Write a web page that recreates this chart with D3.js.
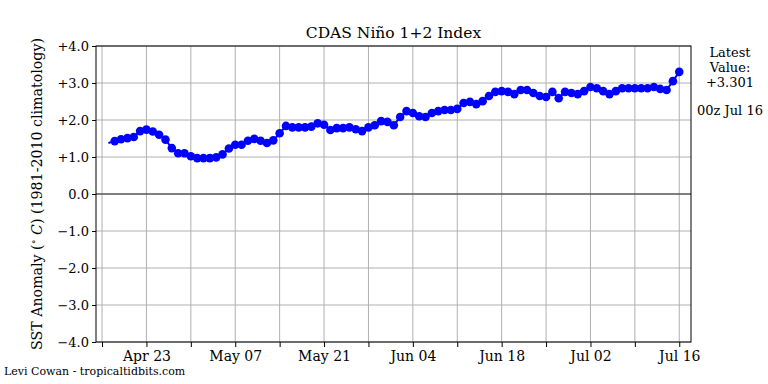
<!DOCTYPE html>
<html>
<head>
<meta charset="utf-8">
<script src="https://cdn.jsdelivr.net/npm/d3@7"></script>
<style>
  body { margin: 0; background: #fff; }
  svg { font-family: "DejaVu Serif", serif; }
</style>
</head>
<body>
<div id="chart"></div>
<script>
// daily Nino 1+2 anomalies, Apr 17 .. Jul 16
const startDate = "2023-04-17";
const anomalies = [
  1.38, 1.43, 1.48, 1.51, 1.54, 1.70, 1.74, 1.69, 1.60, 1.47,
  1.24, 1.10, 1.10, 1.02, 0.97, 0.97, 0.97, 0.99, 1.07, 1.23,
  1.33, 1.33, 1.44, 1.49, 1.44, 1.38, 1.45, 1.64, 1.84, 1.80,
  1.80, 1.80, 1.82, 1.91, 1.87, 1.73, 1.78, 1.78, 1.80, 1.75,
  1.70, 1.80, 1.86, 1.97, 1.95, 1.86, 2.08, 2.24, 2.19, 2.10,
  2.08, 2.19, 2.24, 2.27, 2.27, 2.30, 2.46, 2.49, 2.43, 2.51,
  2.65, 2.76, 2.78, 2.76, 2.70, 2.81, 2.81, 2.73, 2.65, 2.62,
  2.76, 2.59, 2.76, 2.73, 2.70, 2.78, 2.89, 2.86, 2.78, 2.70,
  2.78, 2.86, 2.86, 2.86, 2.86, 2.86, 2.89, 2.84, 2.81, 3.05,
  3.301
];
const yTicks = [-4, -3, -2, -1, 0, 1, 2, 3, 4];
const xLabelDates = ["2023-04-23", "2023-05-07", "2023-05-21", "2023-06-04", "2023-06-18", "2023-07-02", "2023-07-16"];
const latestLabel = ["Latest", "Value:", "+3.301"];
const latestTime = "00z Jul 16";

(function chart() {
  let width = 768,
      height = 384,
      margin = ({ top: 46, right: 77, bottom: 42, left: 96 });

  const parse = d3.utcParse("%Y-%m-%d");
  const day = 864e5;
  const t0 = parse(startDate);
  const data = anomalies.map((v, i) => ({ date: new Date(+t0 + i * day), value: v }));
  const tFirst = data[0].date, tLast = data[data.length - 1].date;

  const svg = d3.select("#chart")
    .append("svg")
    .attr("width", width)
    .attr("height", height);

  let x = d3.scaleUtc()
    .domain([new Date(+tFirst - 1.95 * day), new Date(+tLast + 1.85 * day)])
    .range([margin.left, width - margin.right]);

  let y = d3.scaleLinear()
    .domain([-4, 4])
    .range([height - margin.bottom, margin.top]);

  // weekly ticks, aligned with the labelled dates
  const firstLabel = parse(xLabelDates[0]);
  const weekTicks = d3.range(-1, 13).map(k => new Date(+firstLabel + k * 7 * day))
    .filter(d => d >= x.domain()[0] && d <= x.domain()[1]);
  const labelSet = new Set(xLabelDates.map(s => +parse(s)));

  // grid
  svg.append("g")
    .selectAll("line")
    .data(weekTicks)
    .join("line")
    .attr("x1", d => x(d)).attr("x2", d => x(d))
    .attr("y1", margin.top).attr("y2", height - margin.bottom)
    .attr("stroke", "#b0b0b0")
    .attr("stroke-width", 1);

  svg.append("g")
    .selectAll("line")
    .data(yTicks.filter(d => d !== 0))
    .join("line")
    .attr("x1", margin.left).attr("x2", width - margin.right)
    .attr("y1", d => y(d)).attr("y2", d => y(d))
    .attr("stroke", "#b0b0b0")
    .attr("stroke-width", 1);

  svg.append("line")
    .attr("x1", margin.left).attr("x2", width - margin.right)
    .attr("y1", y(0)).attr("y2", y(0))
    .attr("stroke", "#555")
    .attr("stroke-width", 1.5);

  // axes
  svg.append("g")
    .attr("transform", `translate(0,${height - margin.bottom})`)
    .attr("class", "x-axis")
    .call(d3.axisBottom(x).tickValues(weekTicks).tickSize(5).tickPadding(4)
      .tickFormat(d => labelSet.has(+d) ? d3.utcFormat("%b %d")(d) : ""))
    .call(g => g.select(".domain").remove())
    .call(g => g.selectAll("text").attr("font-size", 14).attr("font-family", "DejaVu Serif").attr("fill", "#000"));

  svg.append("g")
    .attr("transform", `translate(${margin.left},0)`)
    .attr("class", "y-axis")
    .call(d3.axisLeft(y).tickValues(yTicks).tickSize(4).tickPadding(3)
      .tickFormat(d => (d > 0 ? "+" : "") + d3.format(".1f")(d)))
    .call(g => g.select(".domain").remove())
    .call(g => g.selectAll("text").attr("font-size", 13).attr("font-family", "DejaVu Serif").attr("fill", "#000"));

  svg.append("rect")
    .attr("x", margin.left).attr("y", margin.top)
    .attr("width", width - margin.left - margin.right)
    .attr("height", height - margin.top - margin.bottom)
    .attr("fill", "none")
    .attr("stroke", "#000")
    .attr("stroke-width", 1);

  // series
  svg.append("path")
    .datum(data)
    .attr("fill", "none")
    .attr("stroke", "#0000ff")
    .attr("stroke-width", 2)
    .attr("d", d3.line().x(d => x(d.date)).y(d => y(d.value)));

  svg.append("g")
    .selectAll("circle")
    .data(data.slice(1))
    .join("circle")
    .attr("cx", d => x(d.date))
    .attr("cy", d => y(d.value))
    .attr("r", 4.3)
    .attr("fill", "#0000ff");

  // text
  svg.append("text")
    .attr("x", (margin.left + width - margin.right) / 2)
    .attr("y", 38)
    .attr("text-anchor", "middle")
    .attr("font-size", 15.5)
    .text("CDAS Niño 1+2 Index");

  const yl = svg.append("text")
    .attr("transform", `translate(42,${(margin.top + height - margin.bottom) / 2}) rotate(-90)`)
    .attr("text-anchor", "middle")
    .attr("font-size", 14.2);
  yl.append("tspan").text("SST Anomaly (");
  yl.append("tspan").attr("font-size", 10).attr("dy", -5).text("∘");
  yl.append("tspan").attr("dy", 5).text(" ");
  yl.append("tspan").attr("font-style", "italic").text("C");
  yl.append("tspan").text(") (1981-2010 climatology)");

  svg.append("g")
    .selectAll("text")
    .data(latestLabel)
    .join("text")
    .attr("x", 730)
    .attr("y", (d, i) => 57 + i * 15)
    .attr("text-anchor", "middle")
    .attr("font-size", 13)
    .text(d => d);

  svg.append("text")
    .attr("x", 730)
    .attr("y", 115)
    .attr("text-anchor", "middle")
    .attr("font-size", 13)
    .text(latestTime);

  svg.append("text")
    .attr("x", 4)
    .attr("y", 375)
    .attr("font-size", 11)
    .text("Levi Cowan - tropicaltidbits.com");
})();
</script>
</body>
</html>
